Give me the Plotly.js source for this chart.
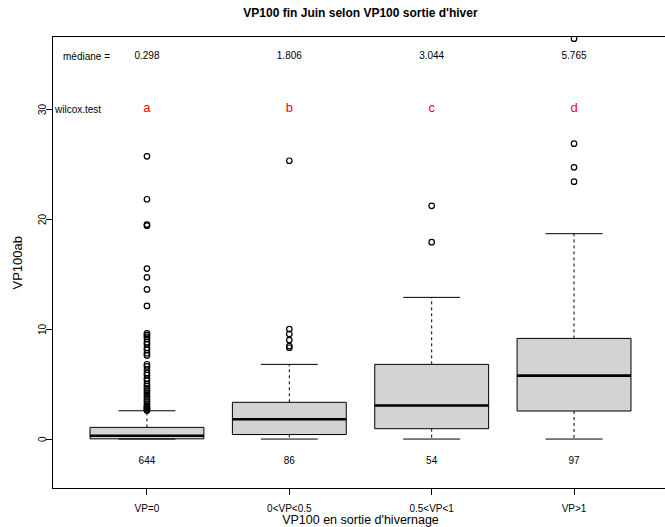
<!DOCTYPE html>
<html>
<head>
<meta charset="utf-8">
<script src="https://cdn.plot.ly/plotly-3.0.1.min.js"></script>
<style>
html,body{margin:0;padding:0;overflow:hidden;background:#fff;}
#chart{width:672px;height:527px;}
</style>
</head>
<body>
<div id="chart"></div>
<script>
// ---- data ----
var categories = ["VP=0", "0<VP<0.5", "0.5<VP<1", "VP>1"];
var positions = [1, 2, 3, 4];
var q1 = [0.02, 0.41, 0.94, 2.55];
var medians = [0.298, 1.806, 3.044, 5.765];
var q3 = [1.06, 3.34, 6.79, 9.15];
var lowerWhisker = [0, 0, 0, 0];
var upperWhisker = [2.57, 6.79, 12.88, 18.67];
var counts = [644, 86, 54, 97];
var letters = ["a", "b", "c", "d"];
var outliers1 = [25.7, 21.8, 19.5, 19.4, 15.5, 14.7, 13.6, 12.1, 9.6, 9.45, 9.3, 9.1, 8.8, 8.6, 8.3, 8.1, 7.8, 7.6,
                 6.8, 6.6, 6.3, 6.0, 5.8, 5.5, 5.3, 5.0, 4.8, 4.6, 4.4, 4.2, 4.0, 3.8, 3.6, 3.4, 3.2, 3.0, 2.9, 2.8, 2.7, 2.6];
var outliers2 = [25.3, 10.0, 9.55, 9.0, 8.45, 8.3];
var outliers3 = [21.2, 17.9];
var outliers4 = [36.4, 26.85, 24.7, 23.4];
var yTicks = [0, 10, 20, 30];
var medianLabel = "médiane =";
var testLabel = "wilcox.test";
var titleText = "VP100 fin Juin selon VP100 sortie d'hiver";
var xTitle = "VP100 en sortie d'hivernage";
var yTitle = "VP100ab";

// ---- build traces ----
var FONT = "Liberation Sans, Arial, Helvetica, sans-serif";
var BOXW = 0.8, STAPLE = 0.2;
var outlierGroups = [outliers1, outliers2, outliers3, outliers4];

var traces = [];
traces.push({
  type: "box", x: positions, q1: q1, median: medians, q3: q3,
  lowerfence: q1, upperfence: q3, width: BOXW, whiskerwidth: 0,
  fillcolor: "#D3D3D3", line: {color: "#000", width: 1},
  boxpoints: false, hoverinfo: "skip", showlegend: false
});

// whiskers (dashed)
var wx = [], wy = [];
positions.forEach(function(p, i){
  wx.push(p, p, null, p, p, null);
  wy.push(q3[i], upperWhisker[i], null, q1[i], lowerWhisker[i], null);
});
traces.push({type:"scatter", mode:"lines", x:wx, y:wy, line:{color:"#000", width:1, dash:"3px,3px"}, hoverinfo:"skip", showlegend:false});

// staples
var sx = [], sy = [];
positions.forEach(function(p, i){
  sx.push(p - STAPLE, p + STAPLE, null, p - STAPLE, p + STAPLE, null);
  sy.push(upperWhisker[i], upperWhisker[i], null, lowerWhisker[i], lowerWhisker[i], null);
});
traces.push({type:"scatter", mode:"lines", x:sx, y:sy, line:{color:"#000", width:1}, hoverinfo:"skip", showlegend:false});

// thick medians
var mx = [], my = [];
positions.forEach(function(p, i){
  mx.push(p - BOXW/2, p + BOXW/2, null);
  my.push(medians[i], medians[i], null);
});
traces.push({type:"scatter", mode:"lines", x:mx, y:my, line:{color:"#000", width:2.6}, hoverinfo:"skip", showlegend:false});

// outliers
var ox = [], oy = [];
outlierGroups.forEach(function(g, i){
  g.forEach(function(v){ ox.push(positions[i]); oy.push(v); });
});
traces.push({type:"scatter", mode:"markers", x:ox, y:oy,
  marker:{symbol:"circle-open", size:5.5, color:"#000", line:{width:1.2, color:"#000"}},
  hoverinfo:"skip", showlegend:false});

// text rows
traces.push({type:"scatter", mode:"text", x:positions, y:positions.map(function(){return 34.8;}),
  text: medians.map(function(m){return m.toFixed(3);}), textfont:{family:FONT, size:10, color:"#000"},
  hoverinfo:"skip", showlegend:false, cliponaxis:false});
traces.push({type:"scatter", mode:"text", x:positions, y:positions.map(function(){return 30;}),
  text: letters, textfont:{family:FONT, size:13, color:"#FF0000"},
  hoverinfo:"skip", showlegend:false, cliponaxis:false});
traces.push({type:"scatter", mode:"text", x:positions, y:positions.map(function(){return -2.0;}),
  text: counts.map(String), textfont:{family:FONT, size:10, color:"#000"},
  hoverinfo:"skip", showlegend:false, cliponaxis:false});

// rotated y tick labels and y title as annotations
var annotations = [
  {x: 0.578, y: 34.8, xref: "x", yref: "y", text: medianLabel, showarrow: false,
   font: {family: FONT, size: 10, color: "#000"}, xanchor: "center", yanchor: "middle"},
  {x: 0.515, y: 30, xref: "x", yref: "y", text: testLabel, showarrow: false,
   font: {family: FONT, size: 10, color: "#000"}, xanchor: "center", yanchor: "middle"},
  {x: 0, y: 0.5, xref: "paper", yref: "paper", xshift: -36, text: yTitle, textangle: -90, showarrow: false,
   font: {family: FONT, size: 13, color: "#000"}, xanchor: "center", yanchor: "middle"}
];
yTicks.forEach(function(t){
  annotations.push({x: 0, y: t, xref: "paper", yref: "y", xshift: -11, text: String(t), textangle: -90,
    showarrow: false, font: {family: FONT, size: 10, color: "#000"}, xanchor: "center", yanchor: "middle"});
});

var layout = {
  width: 672, height: 527,
  margin: {l: 53, r: 4, t: 37, b: 39},
  paper_bgcolor: "#fff", plot_bgcolor: "#fff",
  font: {family: FONT, color: "#000"},
  showlegend: false,
  title: {text: "<b>" + titleText + "</b>", font: {family: FONT, size: 12, color: "#000"},
          x: 0.5, xref: "paper", xanchor: "center", y: 1 - 13/527, yref: "container", yanchor: "middle"},
  xaxis: {
    range: [0.34, 4.66], tickvals: positions, ticktext: categories,
    ticks: "outside", ticklen: 6, tickwidth: 1, tickcolor: "#000", ticklabelstandoff: 5,
    showline: true, mirror: true, linecolor: "#000", linewidth: 1,
    showgrid: false, zeroline: false, tickfont: {family: FONT, size: 10, color: "#000"},
    title: {text: xTitle, font: {family: FONT, size: 12.5, color: "#000"}, standoff: 0}
  },
  yaxis: {
    range: [-4.45, 36.55], tickvals: yTicks, showticklabels: false,
    ticks: "outside", ticklen: 6, tickwidth: 1, tickcolor: "#000",
    showline: true, mirror: true, linecolor: "#000", linewidth: 1,
    showgrid: false, zeroline: false
  },
  annotations: annotations
};

Plotly.newPlot("chart", traces, layout, {displayModeBar: false, staticPlot: true});
</script>
</body>
</html>
